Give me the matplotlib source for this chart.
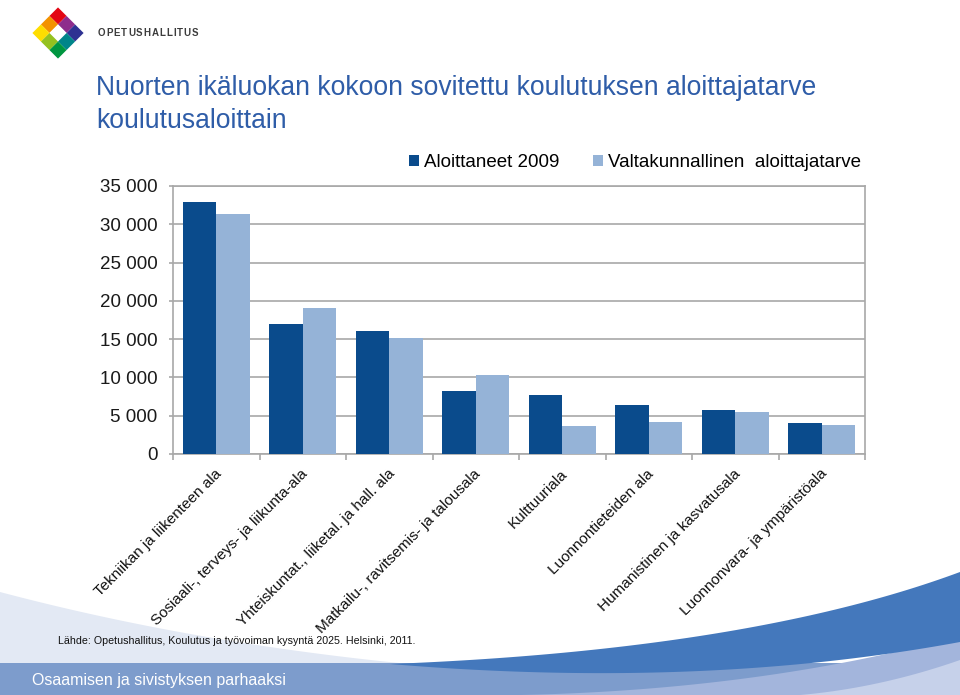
import numpy as np
import matplotlib
matplotlib.use("Agg")
import matplotlib.pyplot as plt
from matplotlib.patches import Polygon, Rectangle
from matplotlib.transforms import ScaledTranslation

plt.rcParams['font.family'] = ['Liberation Sans', 'DejaVu Sans']

# data
categories = [
    "Tekniikan ja liikenteen ala",
    "Sosiaali-, terveys- ja liikunta-ala",
    "Yhteiskuntat., liiketal. ja hall. ala",
    "Matkailu-, ravitsemis- ja talousala",
    "Kulttuuriala",
    "Luonnontieteiden ala",
    "Humanistinen ja kasvatusala",
    "Luonnonvara- ja ympäristöala",
]
aloittaneet_2009 = [32900, 17000, 16000, 8250, 7650, 6400, 5750, 4050]
aloittajatarve = [31300, 19100, 15150, 10350, 3700, 4200, 5450, 3850]
series_names = ["Aloittaneet 2009", "Valtakunnallinen  aloittajatarve"]
yticks = [0, 5000, 10000, 15000, 20000, 25000, 30000, 35000]

title_lines = ["Nuorten ikäluokan kokoon sovitettu koulutuksen aloittajatarve",
               "koulutusaloittain"]
source = "Lähde: Opetushallitus, Koulutus ja työvoiman kysyntä 2025. Helsinki, 2011."
footer = "Osaamisen ja sivistyksen parhaaksi"

DARK = "#0A4B8C"
LIGHT = "#95B3D7"
GRID = "#A8A8A8"
W, H = 960, 695


def bezier(p0, p1, p2, n=60):
    t = np.linspace(0, 1, n)[:, None]
    return (1 - t) ** 2 * np.array(p0) + 2 * (1 - t) * t * np.array(p1) + t ** 2 * np.array(p2)


fig = plt.figure(figsize=(9.6, 6.95), dpi=100)
renderer = fig.canvas.get_renderer()

# background decoration in pixel coordinates
bg = fig.add_axes([0, 0, 1, 1], zorder=-1)
bg.set_xlim(0, W)
bg.set_ylim(H, 0)
bg.axis("off")

sweep = bezier((0, 592), (200, 645), (430, 666))
bg.add_patch(Polygon(np.vstack([sweep, [[430, 666], [0, 666]]]), color="#E3E9F4", lw=0))
bg.add_patch(Rectangle((0, 663), W, H - 663, color="#7D9CCC", lw=0))
mid = bezier((520, 695), (760, 690), (960, 636))
bg.add_patch(Polygon(np.vstack([mid, [[960, 695]]]), color="#A3B5DC", lw=0))
pale = bezier((800, 695), (880, 688), (960, 660))
bg.add_patch(Polygon(np.vstack([pale, [[960, 695]]]), color="#C6D1EA", lw=0))
top = bezier((390, 664), (750, 650), (960, 572))
bot = bezier((390, 664), (700, 690), (960, 642))
bg.add_patch(Polygon(np.vstack([top, bot[::-1]]), color="#4478BC", lw=0))

# logo: 3x3 diamond
logo = fig.add_axes([30 / W, 1 - 63 / H, 56 / W, 60 / H])
logo.set_xlim(-1.6, 1.6)
logo.set_ylim(-1.6, 1.6)
logo.set_aspect("equal")
logo.axis("off")
logo_colors = [["#E30613", "#8E2C8C", "#2E3192"],
               ["#F39200", "#FFFFFF", "#00858A"],
               ["#FFDD00", "#95C11F", "#009640"]]
s = 1.5 / 3
rot = np.array([[np.cos(-np.pi / 4), -np.sin(-np.pi / 4)],
                [np.sin(-np.pi / 4), np.cos(-np.pi / 4)]])
for r in range(3):
    for c in range(3):
        gx, gy = (c - 1) * s, -(r - 1) * s
        corners = np.array([[gx - s / 2, gy - s / 2], [gx + s / 2, gy - s / 2],
                            [gx + s / 2, gy + s / 2], [gx - s / 2, gy + s / 2]])
        pts = corners @ rot.T * 1.38
        logo.add_patch(Polygon(pts, color=logo_colors[r][c], lw=0))

# letter-spaced brand name
brand = "OPETUSHALLITUS"
xpos = 98.0
for ch in brand:
    t = fig.text(xpos / W, 1 - 33 / H, ch, fontsize=7, fontweight="bold",
                 color="#3C3C3C", va="center", ha="left")
    xpos += t.get_window_extent(renderer).width + 0.9

# title
fig.text(96 / W, 1 - 95 / H, title_lines[0], fontsize=19.1, color="#2F5DA8", va="baseline")
fig.text(96 / W, 1 - 128 / H, title_lines[1], fontsize=19.1, color="#2F5DA8", va="baseline")

# chart
ax = fig.add_axes([173 / W, 1 - 454 / H, 692 / W, 268 / H])
x = np.arange(len(categories))
bw = 0.385
ax.bar(x - bw / 2, aloittaneet_2009, bw, color=DARK, label=series_names[0], zorder=3)
ax.bar(x + bw / 2, aloittajatarve, bw, color=LIGHT, label=series_names[1], zorder=3)

ax.set_xlim(-0.5, len(categories) - 0.5)
ax.set_ylim(0, 35000)
ax.set_yticks(yticks)
ax.set_yticklabels([f"{v:,}".replace(",", " ") for v in yticks])
ax.yaxis.grid(True, color=GRID, lw=1.2, zorder=0)
ax.set_axisbelow(True)
for sp in ax.spines.values():
    sp.set_color(GRID)
    sp.set_linewidth(1.2)
ax.tick_params(axis="y", length=3, width=1.2, color=GRID, pad=8, labelsize=13.5, labelcolor="#1A1A1A")

ax.set_xticks(x)
ax.set_xticklabels(categories, rotation=45, ha="right", va="top", rotation_mode="anchor",
                   fontsize=11, color="#111111")
ax.set_xticks(np.arange(len(categories) + 1) - 0.5, minor=True)
ax.tick_params(axis="x", which="major", length=0, pad=9)
ax.tick_params(axis="x", which="minor", length=4, width=1.2, color=GRID)
offset = ScaledTranslation(-2 / 100, 0, fig.dpi_scale_trans)
for lbl in ax.get_xticklabels():
    lbl.set_transform(lbl.get_transform() + offset)

ax.legend(loc="center right", bbox_to_anchor=(0.994, 1.086), ncol=2, frameon=False,
          fontsize=13.5, handlelength=0.55, handleheight=0.55, handletextpad=0.25,
          columnspacing=1.8, borderaxespad=0, borderpad=0)

fig.text(58 / W, 1 - 641 / H, source, fontsize=7.7, color="#111111", va="center")
fig.text(32 / W, 1 - 681 / H, footer, fontsize=11.5, color="white", va="center")

fig.savefig("out.png", dpi=100)
